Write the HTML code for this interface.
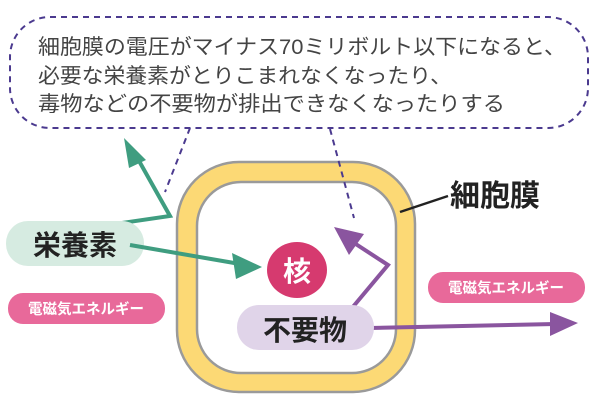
<!DOCTYPE html>
<html><head><meta charset="utf-8"><style>
body{margin:0;width:600px;height:405px;background:#fff;overflow:hidden}
svg{display:block}
text{font-family:"Liberation Sans","Noto Sans CJK JP",sans-serif}
</style></head><body>
<svg width="600" height="405" viewBox="0 0 600 405">
<rect x="10" y="17" width="578" height="111" rx="40" fill="#fff" stroke="#4b3a8f" stroke-width="2" stroke-dasharray="6,5"/>
<g font-size="21" fill="#444">
<text x="38" y="54" textLength="528" lengthAdjust="spacingAndGlyphs">細胞膜の電圧がマイナス70ミリボルト以下になると、</text>
<text x="38" y="83" textLength="414" lengthAdjust="spacingAndGlyphs">必要な栄養素がとりこまれなくなったり、</text>
<text x="38" y="111" textLength="467" lengthAdjust="spacingAndGlyphs">毒物などの不要物が排出できなくなったりする</text>
</g>
<rect x="177" y="162" width="238" height="230" rx="62" fill="#fcd975" stroke="#9a9a9a" stroke-width="2.5"/>
<rect x="197" y="182" width="199" height="191" rx="44" fill="#fff" stroke="#9a9a9a" stroke-width="2.5"/>
<line x1="190" y1="128" x2="165" y2="192" stroke="#4b3a8f" stroke-width="2" stroke-dasharray="6,5"/>
<line x1="330" y1="129" x2="354" y2="218" stroke="#4b3a8f" stroke-width="2" stroke-dasharray="6,5"/>
<line x1="400" y1="212" x2="448" y2="196" stroke="#222" stroke-width="2.5"/>
<text x="450" y="206" font-size="30" font-weight="bold" fill="#222">細胞膜</text>
<polyline points="122,223 170,216 134,152" fill="none" stroke="#3f9d80" stroke-width="4"/>
<polygon points="124,138 146,160 129,168" fill="#3f9d80"/>
<rect x="6" y="221" width="138" height="45" rx="22" fill="#d6ebe1"/>
<text x="75" y="255" font-size="28" font-weight="bold" fill="#222" text-anchor="middle">栄養素</text>
<line x1="130" y1="245" x2="240" y2="264" stroke="#3f9d80" stroke-width="4"/>
<polygon points="262,267 232,253 236,279" fill="#3f9d80"/>
<ellipse cx="297" cy="270" rx="30" ry="28" fill="#d63a6f"/>
<text x="297" y="281" font-size="28" font-weight="bold" fill="#fff" text-anchor="middle">核</text>
<polyline points="352,308 388,265 345,237" fill="none" stroke="#8a559f" stroke-width="4"/>
<polygon points="334,227 364,234 349,255" fill="#8a559f"/>
<line x1="370" y1="328" x2="555" y2="324" stroke="#8a559f" stroke-width="4"/>
<polygon points="578,323 550,312 550,336" fill="#8a559f"/>
<rect x="237" y="305" width="137" height="45" rx="22" fill="#e0d4e9"/>
<text x="305" y="340" font-size="28" font-weight="bold" fill="#222" text-anchor="middle">不要物</text>
<rect x="8" y="293" width="157" height="31" rx="15" fill="#e8699a"/>
<text x="86" y="314" font-size="14.5" font-weight="bold" fill="#fff" text-anchor="middle">電磁気エネルギー</text>
<rect x="428" y="272" width="157" height="31" rx="15" fill="#e8699a"/>
<text x="506" y="293" font-size="14.5" font-weight="bold" fill="#fff" text-anchor="middle">電磁気エネルギー</text>
</svg>
</body></html>
